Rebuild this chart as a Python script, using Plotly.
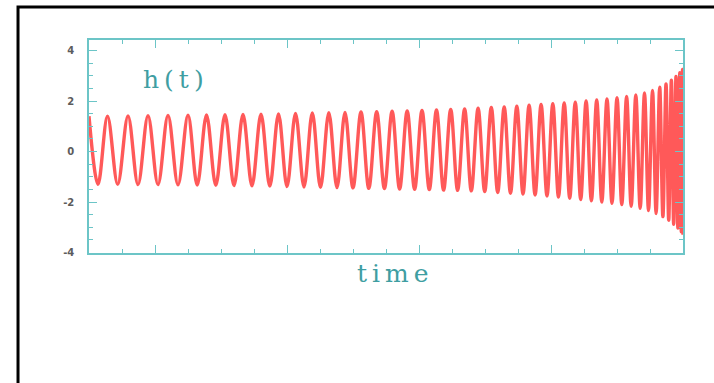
import plotly.graph_objects as go

# Extrema of the chirp waveform h(t): successive crest / trough times and heights
t_extrema = [
    0.000, 0.273, 0.561, 0.870, 1.182, 1.485, 1.788, 2.091, 2.394, 2.697,
    3.000, 3.279, 3.561, 3.842, 4.121, 4.394, 4.667, 4.939, 5.212, 5.479,
    5.742, 6.000, 6.258, 6.515, 6.767, 7.015, 7.267, 7.515, 7.758, 8.000,
    8.242, 8.479, 8.718, 8.952, 9.185, 9.412, 9.642, 9.867, 10.091, 10.312,
    10.530, 10.745, 10.961, 11.170, 11.382, 11.585, 11.791, 11.991, 12.191, 12.385,
    12.582, 12.773, 12.964, 13.152, 13.336, 13.518, 13.700, 13.879, 14.055, 14.227,
    14.400, 14.567, 14.736, 14.900, 15.064, 15.224, 15.385, 15.539, 15.697, 15.848,
    16.000, 16.145, 16.291, 16.430, 16.570, 16.703, 16.833, 16.955, 17.076, 17.185,
    17.294, 17.391, 17.485, 17.567, 17.648, 17.718, 17.788, 17.845, 17.903, 17.948,
    17.985, 18.000,
]
h_extrema = [
    1.40, -1.30, 1.40, -1.30, 1.41, -1.31, 1.42, -1.31, 1.43, -1.32,
    1.44, -1.33, 1.45, -1.34, 1.46, -1.35, 1.47, -1.36, 1.48, -1.37,
    1.49, -1.39, 1.51, -1.41, 1.53, -1.42, 1.54, -1.43, 1.55, -1.44,
    1.57, -1.46, 1.58, -1.47, 1.60, -1.49, 1.61, -1.50, 1.63, -1.51,
    1.65, -1.53, 1.67, -1.54, 1.69, -1.56, 1.72, -1.59, 1.75, -1.62,
    1.77, -1.65, 1.80, -1.68, 1.84, -1.72, 1.87, -1.76, 1.90, -1.80,
    1.93, -1.85, 1.96, -1.90, 2.00, -1.95, 2.04, -2.00, 2.08, -2.05,
    2.13, -2.10, 2.18, -2.17, 2.24, -2.25, 2.32, -2.34, 2.42, -2.46,
    2.55, -2.58, 2.68, -2.72, 2.83, -2.88, 2.98, -3.03, 3.12, -3.18,
    3.25, -3.30,
]

y_tick_values = [-4, -2, 0, 2, 4]
y_tick_labels = ["-4", "-2", "0", "2", "4"]
x_major_ticks = [2, 6, 10, 14, 18]

AXIS = "#6cc5c7"
TEXT = "#3f9ea2"

fig = go.Figure()
fig.add_trace(go.Scatter(
    x=t_extrema, y=h_extrema, mode="lines",
    line=dict(color="rgba(255,25,25,0.72)", width=3.4, shape="spline", smoothing=1.0),
    hoverinfo="skip", showlegend=False,
))

axis_common = dict(
    showline=True, linecolor=AXIS, linewidth=1.5, mirror="ticks",
    ticks="inside", tickcolor=AXIS, tickwidth=1.3, ticklen=8,
    showgrid=False, zeroline=False,
)

fig.update_xaxes(
    range=[0, 18], tickvals=x_major_ticks, showticklabels=False,
    minor=dict(ticks="inside", dtick=1, tick0=0, ticklen=4, tickcolor=AXIS, tickwidth=1.2),
    **axis_common,
)
fig.update_yaxes(
    range=[-4.02, 4.42], tickvals=y_tick_values, ticktext=y_tick_labels,
    tickfont=dict(family="DejaVu Sans", size=10, color="#5c5c5c", weight="bold"),
    ticklabelstandoff=11,
    minor=dict(ticks="inside", dtick=0.5, tick0=0, ticklen=4, tickcolor=AXIS, tickwidth=1.2),
    **axis_common,
)

fig.add_annotation(
    text='<span style="letter-spacing:5px">h(t)</span>',
    xref="paper", yref="paper", x=0.146, y=0.815,
    xanchor="center", yanchor="middle", showarrow=False,
    font=dict(family="DejaVu Serif", size=25, color=TEXT),
)
fig.add_annotation(
    text='<span style="letter-spacing:5px">time</span>',
    xref="paper", yref="paper", x=0.516, y=-0.096,
    xanchor="center", yanchor="middle", showarrow=False,
    font=dict(family="DejaVu Serif", size=25, color=TEXT),
)

# outer black frame running off the right and bottom edges
fig.add_shape(
    type="rect", xref="paper", yref="paper",
    x0=-0.1195, x1=1.07, y0=-0.70, y1=1.155,
    line=dict(color="black", width=3), fillcolor="rgba(0,0,0,0)", layer="above",
)

fig.update_layout(
    width=714, height=383,
    margin=dict(l=89, r=31, t=40, b=130),
    paper_bgcolor="white", plot_bgcolor="white",
)

fig.write_html("out.html")
